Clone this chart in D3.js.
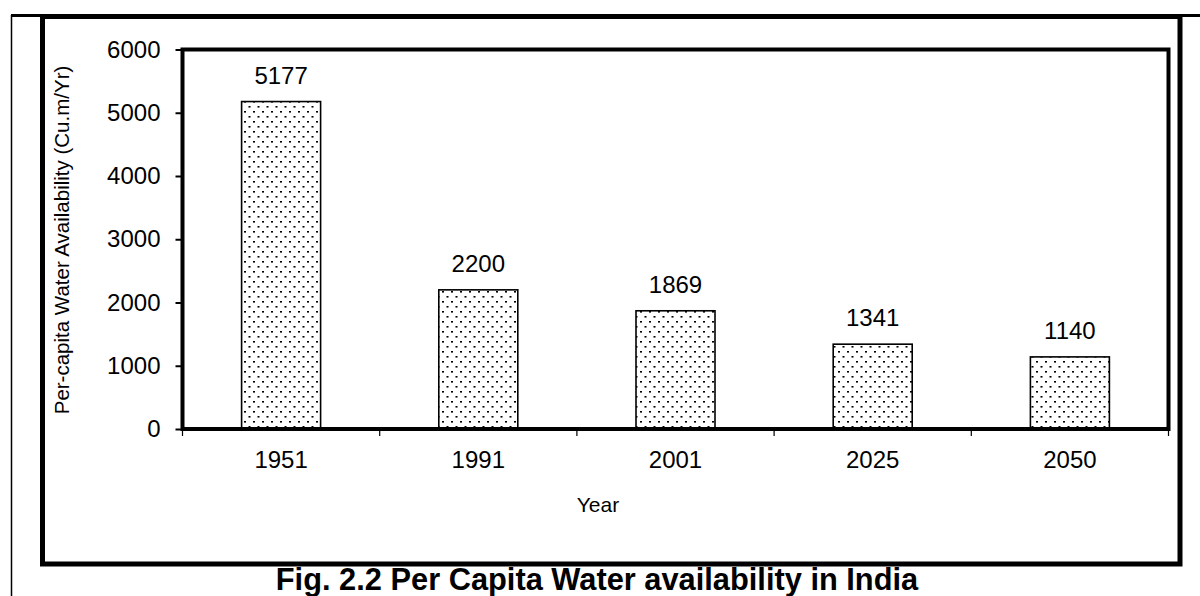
<!DOCTYPE html>
<html><head><meta charset="utf-8">
<script src="https://cdn.jsdelivr.net/npm/d3@7"></script>
<style>body{margin:0;background:#fff}svg{display:block}text{font-family:"Liberation Sans",Arial,sans-serif;fill:#000}</style>
</head><body><svg id="c" width="1200" height="596"></svg>
<script>
const years = ["1951","1991","2001","2025","2050"];
const values = [5177,2200,1869,1341,1140];
const yTicks = [0,1000,2000,3000,4000,5000,6000];
const yTitle = "Per-capita Water Availability (Cu.m/Yr)";
const xTitle = "Year";
const title = "Fig. 2.2 Per Capita Water availability in India";

const svg = d3.select("#c");
const defs = svg.append("defs");
const pat = defs.append("pattern").attr("id","dots").attr("patternUnits","userSpaceOnUse")
  .attr("width",9).attr("height",10);
pat.append("rect").attr("width",9).attr("height",10).attr("fill","#fff");
pat.append("rect").attr("x",1).attr("y",1).attr("width",2).attr("height",1.6).attr("fill","#000");
pat.append("rect").attr("x",5.5).attr("y",6).attr("width",2).attr("height",1.6).attr("fill","#000");

// outer page lines
svg.append("line").attr("x1",11.5).attr("x2",11.5).attr("y1",15).attr("y2",596).attr("stroke","#000").attr("stroke-width",1.5);
svg.append("line").attr("x1",11).attr("x2",1200).attr("y1",15.5).attr("y2",15.5).attr("stroke","#000").attr("stroke-width",3);
svg.append("rect").attr("x",42.5).attr("y",16.5).attr("width",1137.5).attr("height",547.5)
  .attr("fill","none").attr("stroke","#000").attr("stroke-width",5);

const L=182.5, R=1168.5, T=49.5, B=429;
const xb = d3.scaleBand().domain(years).range([L,R]);
const y = d3.scaleLinear().domain([0,6000]).range([B,T]);
const FS = 24;

// bars
svg.append("g").selectAll("rect").data(values).join("rect")
  .attr("x",(d,i)=>xb(years[i])+xb.bandwidth()/2-39.5)
  .attr("width",79)
  .attr("y",d=>y(d)).attr("height",d=>B-y(d))
  .attr("fill","url(#dots)").attr("stroke","#000").attr("stroke-width",1.6);

// value labels
svg.append("g").selectAll("text").data(values).join("text")
  .attr("x",(d,i)=>xb(years[i])+xb.bandwidth()/2)
  .attr("y",d=>y(d)-18)
  .attr("text-anchor","middle").attr("font-size",FS).text(d=>d);

// plot box
svg.append("rect").attr("x",L).attr("y",T).attr("width",R-L).attr("height",B-T)
  .attr("fill","none").attr("stroke","#000").attr("stroke-width",4);

// y axis
const ya = svg.append("g").attr("transform",`translate(${L},0)`)
  .call(d3.axisLeft(y).tickValues(yTicks).tickSize(7).tickPadding(15).tickFormat(d3.format("d")));
ya.select(".domain").remove();
ya.selectAll("line").attr("stroke","#000").attr("stroke-width",2);
ya.selectAll("text").attr("font-size",FS).attr("font-family","Liberation Sans, Arial, sans-serif").attr("fill","#000");

// x axis ticks at band boundaries
const bounds = years.map(d=>xb(d)).concat([R]);
svg.append("g").selectAll("line").data(bounds).join("line")
  .attr("x1",d=>d).attr("x2",d=>d).attr("y1",B).attr("y2",B+7).attr("stroke","#000").attr("stroke-width",1.2);
svg.append("g").selectAll("text").data(years).join("text")
  .attr("x",d=>xb(d)+xb.bandwidth()/2).attr("y",468)
  .attr("text-anchor","middle").attr("font-size",FS).text(d=>d);

svg.append("text").attr("x",598).attr("y",512).attr("text-anchor","middle").attr("font-size",21).text(xTitle);
svg.append("text").attr("transform",`translate(69,240) rotate(-90)`).attr("text-anchor","middle")
  .attr("font-size",20.5).text(yTitle);
svg.append("text").attr("x",597).attr("y",590).attr("text-anchor","middle").attr("font-size",30.8)
  .attr("font-weight","bold").text(title);
</script></body></html>
